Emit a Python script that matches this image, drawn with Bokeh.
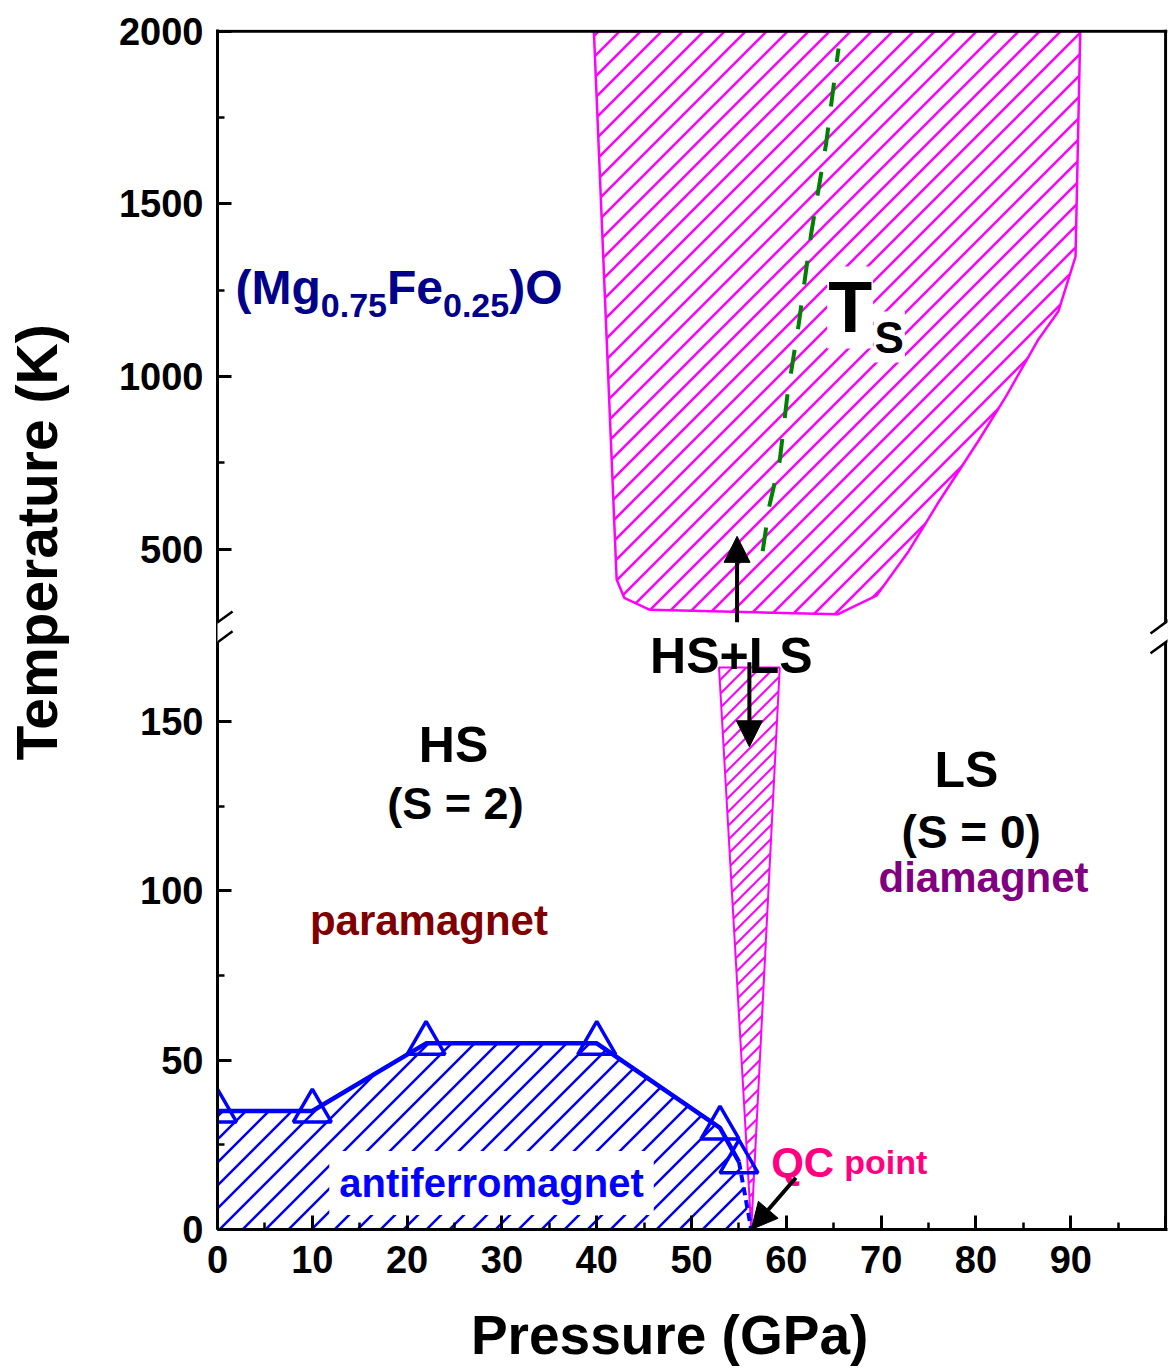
from bokeh.plotting import figure
from bokeh.models import Range1d, FixedTicker, Arrow, NormalHead, Span, CanvasTexture
from bokeh.core.properties import value
from bokeh.embed import file_html
from bokeh.resources import INLINE

# ---------------- data (pressure in GPa, temperature in K) ----------------
# HS+LS coexistence region above the axis break
upper_P = [39.7, 91.0, 90.5, 88.7, 86.6, 83.2, 80.2, 76.1, 72.9, 69.5, 65.4, 45.6, 42.9, 42.1]
upper_T = [2000, 2000, 1347, 1189, 1108, 944, 811, 638, 494, 365, 311, 324, 359, 412]
# HS+LS wedge below the break, closing at the quantum critical point
wedge_P = [52.9, 59.3, 56.3]
wedge_T = [166, 166, 0]
# Neel temperature (antiferromagnet boundary)
neel_P = [0, 10, 22, 40, 53, 55]
neel_T = [35, 35, 55, 55, 30, 20]
qc_P = 56.3
qc_T = 0
# spin-crossover temperature Ts
ts_P = [57.5, 58.2, 59.3, 60.1, 61.3, 62.6, 64.2, 65.5]
ts_T = [494, 624, 756, 944, 1151, 1411, 1676, 1950]

# ticks
x_major = list(range(0, 101, 10))
x_minor = list(range(5, 100, 10))
y_low_major = [0, 50, 100, 150]
y_low_minor = [25, 75, 125]
y_up_major = [500, 1000, 1500, 2000]
y_up_minor = [750, 1250, 1750]

FONT = "Liberation Sans"
NBSP = "\u00a0"
MAGENTA = "#FF00FF"
BLUE = "#0000FF"


# broken temperature axis: lower part 0-175 K, upper part from ~260 K to 2000 K
def y_low(t):
    return t


def y_up(t):
    v = 201 + (t - 500) * 51 / 500
    return int(v) if float(v).is_integer() else v


def many(f, ts):
    return [f(t) for t in ts]


Y_TOP = y_up(2000)
BREAK_Y = 176.4

p = figure(width=1168, height=1368, output_backend="svg", toolbar_location=None,
           x_range=Range1d(0, 100.2), y_range=Range1d(0, Y_TOP + 0.5),
           min_border_left=217, min_border_right=1, min_border_top=29,
           min_border_bottom=139)
p.grid.visible = False
p.outline_line_color = None
p.background_fill_color = "white"
p.border_fill_color = "white"

# ---- axes ----
yt_major = many(y_low, y_low_major) + many(y_up, y_up_major)
yt_minor = many(y_low, y_low_minor) + many(y_up, y_up_minor)
y_over = {}
for v, t in zip(many(y_up, y_up_major), y_up_major):
    y_over[v] = str(t)
    y_over[str(v)] = str(t)

xax = p.xaxis[0]
yax = p.yaxis[0]
xax.ticker = FixedTicker(ticks=x_major, minor_ticks=x_minor)
yax.ticker = FixedTicker(ticks=yt_major, minor_ticks=yt_minor)
xax.major_label_overrides = {100: "", "100": ""}
yax.major_label_overrides = y_over
for ax in (xax, yax):
    ax.axis_line_width = 3
    ax.major_tick_in = 14
    ax.major_tick_out = 0
    ax.minor_tick_in = 7
    ax.minor_tick_out = 0
    ax.major_tick_line_width = 3
    ax.minor_tick_line_width = 2.5
    ax.major_label_text_font = FONT
    ax.major_label_text_font_style = "bold"
    ax.major_label_text_font_size = "38px"
    ax.major_label_text_color = "black"
    ax.axis_label_text_font = FONT
    ax.axis_label_text_font_style = "bold"
    ax.axis_label_text_color = "black"
xax.major_label_standoff = 16
yax.major_label_standoff = 14
# axis titles (non-breaking spaces shift them off-centre as in the original)
xax.axis_label = "Pressure (GPa)" + NBSP * 3
xax.axis_label_text_font_size = "55px"
xax.axis_label_standoff = 28
yax.axis_label = NBSP * 11 + "Temperature (K)"
yax.axis_label_text_font_size = "57px"
yax.axis_label_standoff = 47

# top and right frame lines
p.add_layout(Span(location=100, dimension="height", line_color="black", line_width=3))
p.add_layout(Span(location=Y_TOP, dimension="width", line_color="black", line_width=3))


# ---- 45 degree hatch textures ----
def diag_hatch(color, spacing, weight):
    code = f"""
var c = arguments[0];
var s = {spacing}, w = {weight};
c.canvas.width = s;
c.canvas.height = s;
c.setTransform(1, 0, 0, 1, 0, 0);
c.clearRect(0, 0, s, s);
c.strokeStyle = "{color}";
c.lineWidth = w;
c.lineCap = "square";
c.beginPath();
c.moveTo(0, s); c.lineTo(s, 0);
c.moveTo(-s / 2, s / 2); c.lineTo(s / 2, -s / 2);
c.moveTo(s / 2, 1.5 * s); c.lineTo(1.5 * s, s / 2);
c.stroke();
"""
    return dict(hatch_pattern="diag", hatch_scale=spacing, hatch_weight=weight,
                hatch_color=color, hatch_extra={"diag": CanvasTexture(code=code)})


# ---- regions ----
p.patch(upper_P, many(y_up, upper_T), fill_color=None, line_color=MAGENTA,
        line_width=2.5, **diag_hatch(MAGENTA, 21, 2.5))
p.patch(wedge_P, many(y_low, wedge_T), fill_color=None, line_color=MAGENTA,
        line_width=2, **diag_hatch(MAGENTA, 14, 2))

afm_P = [0] + neel_P + [qc_P, 0]
afm_T = [neel_T[0]] + neel_T + [qc_T, 0]
p.patch(afm_P, many(y_low, afm_T), fill_color=None, line_color=None,
        **diag_hatch(BLUE, 23, 2.5))
p.line(neel_P, many(y_low, neel_T), line_color=BLUE, line_width=4.5)
p.line([neel_P[-1], qc_P], many(y_low, [neel_T[-1], qc_T]), line_color=BLUE,
       line_width=4, line_dash="8 5")
p.scatter(neel_P, many(y_low, neel_T), marker="triangle", size=38,
          line_color=BLUE, line_width=3.5, fill_color=None)

p.line(ts_P, many(y_up, ts_T), line_color="#008000", line_width=4, line_dash="24 21")


# ---- texts ----
def txt(x, y, s, size, color="black", align="left", xoff=0, bg=None, pad=0):
    kw = {}
    if bg is not None:
        kw = dict(background_fill_color=bg, padding=pad)
    p.text(x=[x], y=[y], text=[s], text_font=value(FONT), text_font_style="bold",
           text_font_size=value(f"{size}px"), text_color=color, text_align=align,
           text_baseline="alphabetic", x_offset=xoff, **kw)


ARIAL_B = {"(": .333, ")": .333, "M": .833, "g": .611, "F": .611, "e": .556,
           "O": .778, "0": .556, ".": .278, "7": .556, "5": .556, "2": .556}


def width(s, size):
    return sum(ARIAL_B[c] for c in s) * size


title_parts = [("(Mg", 48, False), ("0.75", 34, True), ("Fe", 48, False),
               ("0.25", 34, True), (")O", 48, False)]
off = 0.0
for s, sz, sub in title_parts:
    ty = y_up(1206) if sub else y_up(1258)
    txt(1.9, ty, s, sz, color="#00008B", xoff=off)
    off += width(s, sz)

txt(64.3, y_up(1200), "T", 72, bg="white", pad=1)
txt(69.2, y_up(1114), "S", 44, bg="white", pad=1)

txt(24.9, y_low(143), "HS", 50, align="center")
txt(25.1, y_low(125.9), "(S = 2)", 45, align="center")
txt(79.0, y_low(135.7), "LS", 50, align="center")
txt(79.5, y_low(117.3), "(S = 0)", 46, align="center")
txt(80.8, y_low(103.9), "diamagnet", 42, color="#800080", align="center")
txt(22.3, y_low(91.4), "paramagnet", 42, color="#800000", align="center")
txt(28.9, y_low(13.7), "antiferromagnet", 40, color=BLUE, align="center",
    bg="white", pad=10)
txt(54.2, y_low(169.3), "HS+LS", 50, align="center")
txt(58.4, y_low(19.9), "QC", 42, color="#FF0080")
txt(66.1, y_low(19.9), "point", 34, color="#FF0080")

# ---- arrows ----
up_arrow = (54.8, y_up(288), 54.8, y_up(537))
down_arrow = (56.1, y_low(167.6), 56.1, y_low(142.6))
qc_arrow = (61.0, y_low(15.3), qc_P, y_low(qc_T))
for xs, ys, xe, ye in (up_arrow, down_arrow, qc_arrow):
    p.add_layout(Arrow(x_start=xs, y_start=ys, x_end=xe, y_end=ye,
                       line_width=4, line_color="black",
                       end=NormalHead(size=26, fill_color="black", line_color="black",
                                      line_width=1)))

# ---- axis break marks ----
gap = 2.95
dx, dy = 1.59, 3.25
for x0 in (0, 100):
    p.add_layout(Arrow(x_start=x0, y_start=BREAK_Y - gap, x_end=x0, y_end=BREAK_Y + gap,
                       line_width=8, line_color="white", end=None))
    for yc in (BREAK_Y - gap, BREAK_Y + gap):
        p.add_layout(Arrow(x_start=x0 - dx, y_start=yc - dy, x_end=x0 + dx, y_end=yc + dy,
                           line_width=2.5, line_color="black", end=None))

open("out.html", "w").write(file_html(p, INLINE))
